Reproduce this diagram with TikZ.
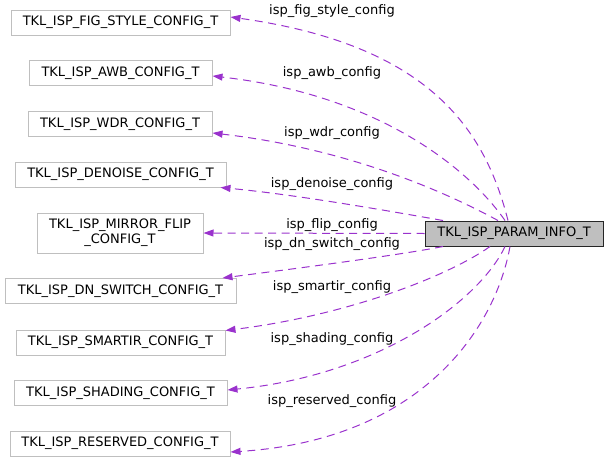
\documentclass[tikz,border=0pt]{standalone}
\usepackage{fontspec}
\setmainfont{DejaVu Sans}
\usetikzlibrary{arrows.meta}
\definecolor{edgecol}{HTML}{9A32CD}
\definecolor{boxgray}{HTML}{BFBFBF}
\begin{document}
\begin{tikzpicture}[x=1pt,y=-1pt,
  cls/.style={draw=boxgray, line width=1pt, fill=white, inner sep=0pt, minimum height=25pt, font=\fontsize{13}{15}\selectfont, align=center},
  mainbox/.style={cls, draw=black!85, fill=boxgray},
  lbl/.style={inner sep=0pt, font=\fontsize{13}{15}\selectfont},
  rel/.style={draw=edgecol, line width=1pt, dash pattern=on 8pt off 5.5pt, -{Triangle[length=10pt,width=7pt]}}]
\useasboundingbox (0,0) rectangle (608,463);

\node[mainbox, minimum width=178pt] (main) at (514,233.5) {TKL\_ISP\_PARAM\_INFO\_T};

\node[cls, minimum width=219pt] (fig) at (120.5,22.5) {TKL\_ISP\_FIG\_STYLE\_CONFIG\_T};
\node[cls, minimum width=183pt] (awb) at (120.5,73) {TKL\_ISP\_AWB\_CONFIG\_T};
\node[cls, minimum width=184pt] (wdr) at (120,124) {TKL\_ISP\_WDR\_CONFIG\_T};
\node[cls, minimum width=211pt] (denoise) at (120.5,174.5) {TKL\_ISP\_DENOISE\_CONFIG\_T};
\node[cls, minimum width=166pt, minimum height=40pt] (flip) at (120,233) {TKL\_ISP\_MIRROR\_FLIP\\\_CONFIG\_T};
\node[cls, minimum width=231pt] (dn) at (120.5,291) {TKL\_ISP\_DN\_SWITCH\_CONFIG\_T};
\node[cls, minimum width=209pt] (smartir) at (120.5,342.5) {TKL\_ISP\_SMARTIR\_CONFIG\_T};
\node[cls, minimum width=213pt] (shading) at (120.5,393) {TKL\_ISP\_SHADING\_CONFIG\_T};
\node[cls, minimum width=220pt] (reserved) at (120,443.5) {TKL\_ISP\_RESERVED\_CONFIG\_T};

\draw[rel] ([xshift=-6pt]main.north) .. controls (485,130) and (430,45) .. ([yshift=5.5pt]fig.east);
\draw[rel] ([xshift=-9pt]main.north) .. controls (470,170) and (380,95) .. ([yshift=-3pt]awb.east);
\draw[rel] ([xshift=-16pt]main.north) .. controls (460,200) and (360,150) .. ([yshift=-9pt]wdr.east);
\draw[rel] ([xshift=-71pt]main.north) .. controls (400,213) and (300,195) .. ([xshift=-6pt]denoise.south east);
\draw[rel] (main.west) -- (flip.east);
\draw[rel] ([xshift=-71pt]main.south) .. controls (400,255) and (300,268) .. ([xshift=-14pt]dn.north east);
\draw[rel] ([xshift=-24pt]main.south) .. controls (450,275) and (350,315) .. ([yshift=-1pt]smartir.north east);
\draw[rel] ([xshift=-9pt]main.south) .. controls (480,300) and (380,375) .. ([yshift=3pt]shading.east);
\draw[rel] ([xshift=-4pt]main.south) .. controls (495,330) and (420,440) .. ([yshift=-8.5pt]reserved.east);

\node[lbl] (l1) at (332,11.5) {isp\_fig\_style\_config};
\node[lbl] (l2) at (332,72.7) {isp\_awb\_config};
\node[lbl] (l3) at (332,132.7) {isp\_wdr\_config};
\node[lbl] (l4) at (332,184) {isp\_denoise\_config};
\node[lbl] (l5) at (332,225) {isp\_flip\_config};
\node[lbl] (l6) at (332,244) {isp\_dn\_switch\_config};
\node[lbl] (l7) at (332,287) {isp\_smartir\_config};
\node[lbl] (l8) at (332,339) {isp\_shading\_config};
\node[lbl] (l9) at (332,401) {isp\_reserved\_config};
\end{tikzpicture}
\end{document}
